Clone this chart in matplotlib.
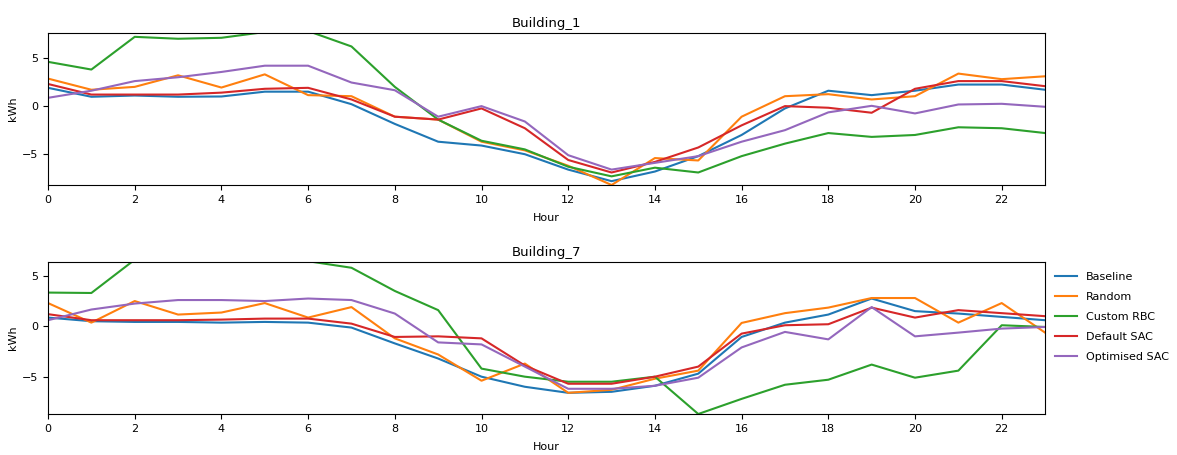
import matplotlib.pyplot as plt
import numpy as np

plt.rcParams['font.size'] = 8
plt.rcParams['axes.titlesize'] = 9.5
plt.rcParams['axes.labelsize'] = 8
plt.rcParams['legend.fontsize'] = 8

hours = np.arange(24)
labels = ["Baseline", "Random", "Custom RBC", "Default SAC", "Optimised SAC"]

# Building_1 (kWh per hour)
b1_baseline = [1.9, 0.97, 1.1, 0.97, 1.0, 1.5, 1.5, 0.2, -1.85, -3.7, -4.1, -5.0,
               -6.6, -7.8, -6.8, -5.2, -3.0, -0.24, 1.6, 1.14, 1.6, 2.24, 2.24, 1.7]
b1_random = [2.86, 1.7, 2.0, 3.2, 1.93, 3.3, 1.14, 1.03, -1.1, -1.4, -3.7, -4.6,
             -6.2, -8.2, -5.4, -5.65, -1.1, 1.03, 1.24, 0.69, 1.03, 3.38, 2.8, 3.1]
b1_rbc = [4.6, 3.8, 7.2, 7.0, 7.1, 7.7, 7.8, 6.2, 2.0, -1.4, -3.6, -4.5,
          -6.3, -7.3, -6.4, -6.9, -5.2, -3.9, -2.8, -3.2, -3.0, -2.2, -2.3, -2.8]
b1_default = [2.3, 1.2, 1.2, 1.2, 1.4, 1.8, 1.9, 0.69, -1.1, -1.4, -0.24, -2.3,
              -5.6, -6.9, -5.8, -4.3, -2.0, 0.0, -0.17, -0.69, 1.8, 2.6, 2.6, 2.07]
b1_opt = [0.86, 1.6, 2.6, 3.0, 3.55, 4.2, 4.2, 2.45, 1.65, -1.1, 0.0, -1.6,
          -5.1, -6.6, -5.9, -5.2, -3.7, -2.5, -0.65, 0.03, -0.76, 0.17, 0.24, -0.07]

# Building_7 (kWh per hour)
b7_baseline = [0.86, 0.5, 0.43, 0.43, 0.36, 0.43, 0.36, -0.13, -1.7, -3.2, -5.0, -6.0,
               -6.6, -6.5, -5.9, -4.7, -1.06, 0.36, 1.16, 2.75, 1.5, 1.26, 0.93, 0.6]
b7_random = [2.3, 0.36, 2.5, 1.16, 1.36, 2.3, 0.86, 1.9, -1.2, -2.8, -5.4, -3.7,
             -6.6, -6.3, -5.2, -4.4, 0.33, 1.3, 1.85, 2.8, 2.8, 0.36, 2.3, -0.63]
b7_rbc = [3.34, 3.3, 6.6, 6.8, 6.8, 6.7, 6.45, 5.8, 3.5, 1.6, -4.2, -5.0,
          -5.5, -5.5, -5.0, -8.7, -7.2, -5.8, -5.3, -3.8, -5.1, -4.4, 0.1, -0.07]
b7_default = [1.2, 0.6, 0.6, 0.6, 0.66, 0.76, 0.76, 0.26, -1.06, -1.0, -1.2, -3.9,
              -5.7, -5.7, -5.0, -4.0, -0.73, 0.1, 0.2, 1.85, 0.86, 1.6, 1.3, 1.0]
b7_opt = [0.6, 1.66, 2.25, 2.6, 2.6, 2.5, 2.75, 2.6, 1.26, -1.6, -1.8, -4.0,
          -6.2, -6.2, -5.9, -5.1, -2.1, -0.56, -1.3, 1.9, -1.0, -0.63, -0.23, -0.07]

buildings = [
    ("Building_1", [b1_baseline, b1_random, b1_rbc, b1_default, b1_opt], (-8.2, 7.6)),
    ("Building_7", [b7_baseline, b7_random, b7_rbc, b7_default, b7_opt], (-8.7, 6.4)),
]

fig = plt.figure(figsize=(11.77, 4.55), dpi=100)
ax1 = fig.add_axes([0.0408, 0.5934, 0.8471, 0.3341])
ax2 = fig.add_axes([0.0408, 0.0901, 0.8471, 0.3347])

for ax, (title, series, ylim) in zip([ax1, ax2], buildings):
    for lab, vals in zip(labels, series):
        ax.plot(hours, vals, label=lab)
    ax.set_title(title, pad=4)
    ax.set_xlabel("Hour", labelpad=6)
    ax.set_ylabel("kWh", labelpad=3)
    ax.set_xlim(0, 23)
    ax.set_ylim(*ylim)
    ax.set_xticks(np.arange(0, 24, 2))
    ax.set_yticks([-5, 0, 5])

ax2.legend(loc="upper left", bbox_to_anchor=(1.0, 1.0), frameon=False,
           labelspacing=0.9)

fig.savefig("out.png", dpi=100)
